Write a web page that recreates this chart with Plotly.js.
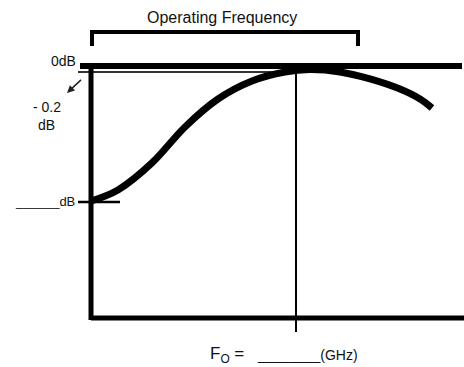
<!DOCTYPE html>
<html>
<head>
<meta charset="utf-8">
<script src="https://cdn.plot.ly/plotly-3.0.1.min.js"></script>
<style>html,body{margin:0;padding:0;background:#fff;}#chart{width:464px;height:367px;}</style>
</head>
<body>
<div id="chart"></div>
<script>
// Schematic gain-vs-frequency response (arbitrary frequency units, gain in dB)
const freq = [0, 1.35, 3.05, 4.7, 6.35, 8.05, 9.7, 10.95, 12.45, 13.95, 15.45, 16.45, 17.05];
const gain = [-4.5, -4.13, -3.23, -2.03, -1.1, -0.5, -0.2, -0.12, -0.2, -0.43, -0.77, -1.1, -1.4];
const bandStart = 0.05, bandEnd = 13.35;   // operating frequency bracket
const centerFreq = 10.25;                  // F0
const rippleDb = -0.2;                     // -0.2 dB reference
const lowDb = -4.53;                       // low-end dB marker
const floorDb = -8.4;                      // bottom axis level
const xMin = -4.55, xMax = 18.65, yMin = -10.033, yMax = 2.2;

const font = "Liberation Sans, Arial, sans-serif";
const txt = "#111";

const trace = {
  x: freq, y: gain, type: "scatter", mode: "lines",
  line: {color: "#000", width: 7, shape: "spline", smoothing: 1},
  hoverinfo: "skip"
};

const L = (x0, y0, x1, y1, w, c, layer) => ({type: "line", xref: "x", yref: "y", x0, y0, x1, y1,
  line: {color: c || "#000", width: w}, layer: layer || "above"});

const shapes = [
  L(-0.55, 0, 18.55, 0, 6),                 // 0 dB line
  L(-0.65, rippleDb, 10.5, rippleDb, 2, "#333", "below"), // -0.2 dB line
  L(0, 0, 0, -8.47, 5),                     // left axis
  L(0, floorDb, xMax, floorDb, 5),          // bottom axis
  L(centerFreq, 0, centerFreq, -8.87, 2),   // F0 line
  L(-0.65, lowDb, 1.45, lowDb, 2.5),        // low dB marker
  L(bandStart, 1.133, bandEnd, 1.133, 4),   // bracket top
  L(bandStart, 1.2, bandStart, 0.667, 4),   // bracket left
  L(bandEnd, 1.2, bandEnd, 0.667, 4)        // bracket right
];

const A = (text, x, y, size, xanchor) => ({text, x, y, xref: "x", yref: "y", showarrow: false,
  xanchor: xanchor || "center", yanchor: "middle", font: {family: font, size, color: txt}});

const annotations = [
  A("Operating Frequency", 6.55, 1.633, 16),
  A("0dB", -1.4, 0.167, 14),
  A("- 0.2", -2.2, -1.37, 14),
  A("dB", -2.25, -1.97, 14),
  A("______dB", -0.7, -4.53, 13, "right"),
  A("F<sub>O</sub> =", 5.85, -9.63, 17, "left"),
  A("________(GHz)", 8.2, -9.63, 14, "left"),
  {x: -1.2, y: -0.9, ax: -0.35, ay: -0.37, xref: "x", yref: "y", axref: "x", ayref: "y",
   text: " ", showarrow: true, arrowhead: 2, arrowsize: 1, arrowwidth: 1.5, arrowcolor: "#222"}
];

const layout = {
  width: 464, height: 367,
  margin: {l: 0, r: 0, t: 0, b: 0},
  paper_bgcolor: "#fff", plot_bgcolor: "#fff",
  showlegend: false,
  xaxis: {range: [xMin, xMax], visible: false, fixedrange: true},
  yaxis: {range: [yMin, yMax], visible: false, fixedrange: true},
  shapes, annotations
};

Plotly.newPlot("chart", [trace], layout, {displayModeBar: false, staticPlot: true});
</script>
</body>
</html>
